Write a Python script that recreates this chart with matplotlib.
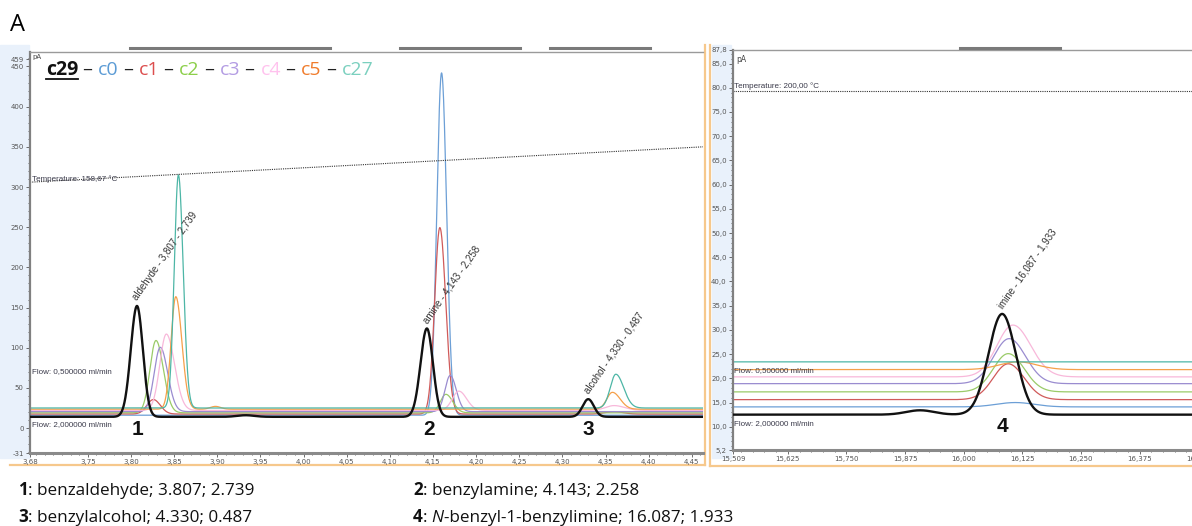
"""
GC chromatogram overlay (panel A): early-eluting region and imine region
"""

import numpy as np
import matplotlib.pyplot as plt
from matplotlib.ticker import MultipleLocator, FixedLocator, FuncFormatter
from matplotlib.lines import Line2D

W, H = 1192, 526

# traces, in drawing order (black reference last)
traces = ["c0", "c1", "c2", "c3", "c4", "c5", "c27", "c29"]
line_colors = {"c29": "#111111", "c0": "#6c9fd6", "c1": "#d05a5a", "c2": "#9acb68",
               "c3": "#9a8cd0", "c4": "#f8b8da", "c5": "#f5a04a", "c27": "#4db6a6"}
legend_names = ["c29", "c0", "c1", "c2", "c3", "c4", "c5", "c27"]
legend_colors = ["#111111", "#5b9bd5", "#dc4e4e", "#8ccf4a", "#b39ce3",
                 "#ffc2ee", "#f07c2c", "#7bd0bf"]

# left window (3.68 - 4.46 min): baseline (pA) and peaks (rt, height, sigma left, sigma right)
left_base = {"c29": 14.0, "c0": 16.0, "c1": 17.5, "c2": 19.0, "c3": 20.5,
             "c4": 22.0, "c5": 23.5, "c27": 25.0}
left_peaks = {
    "c29": [(3.807, 138, 0.0072, 0.0068), (3.933, 2, 0.010, 0.010),
            (4.143, 110, 0.0074, 0.0070), (4.330, 22, 0.0065, 0.0065)],
    "c0": [(4.160, 426, 0.0055, 0.0058)],
    "c1": [(3.826, 18, 0.0075, 0.0080), (4.158, 232, 0.0060, 0.0068),
           (4.360, 3, 0.010, 0.010)],
    "c2": [(3.829, 90, 0.0070, 0.0085), (4.165, 23, 0.0065, 0.0080)],
    "c3": [(3.834, 80, 0.0070, 0.0085), (4.170, 45, 0.0060, 0.0070)],
    "c4": [(3.841, 95, 0.0075, 0.0095), (4.180, 24, 0.0075, 0.0090),
           (4.360, 6, 0.010, 0.012)],
    "c5": [(3.852, 140, 0.0055, 0.0070), (3.898, 3.5, 0.006, 0.006),
           (4.358, 21, 0.0065, 0.0090)],
    "c27": [(3.855, 290, 0.0048, 0.0055), (4.362, 42, 0.0065, 0.0090)],
}

# right window (15.51 - 16.5 min)
right_base = {"c29": 12.5, "c0": 14.1, "c1": 15.6, "c2": 17.2, "c3": 18.9,
              "c4": 20.3, "c5": 21.8, "c27": 23.4}
right_peaks = {
    "c29": [(15.907, 0.9, 0.03, 0.03), (16.082, 20.8, 0.029, 0.029)],
    "c0": [(16.110, 0.9, 0.04, 0.04)],
    "c1": [(16.095, 7.4, 0.032, 0.034)],
    "c2": [(16.095, 7.9, 0.032, 0.034)],
    "c3": [(16.097, 9.3, 0.033, 0.035)],
    "c4": [(16.105, 10.7, 0.034, 0.038)],
    "c5": [(16.116, 1.6, 0.04, 0.04)],
    "c27": [],
}

peak_labels = ["aldehyde - 3,807 - 2,739", "amine - 4,143 - 2,258",
               "alcohol - 4,330 - 0,487", "imine - 16,087 - 1,933"]
peak_label_rt = [3.807, 4.143, 4.330, 16.082]
peak_numbers = ["1", "2", "3", "4"]

caption = [
    ("1", ": benzaldehyde; 3.807; 2.739"),
    ("2", ": benzylamine; 4.143; 2.258"),
    ("3", ": benzylalcohol; 4.330; 0.487"),
    ("4", ": N-benzyl-1-benzylimine; 16.087; 1.933"),
]


def build_trace(t, base, peaks):
    y = np.full_like(t, base)
    for rt, h, sl, sr in peaks:
        s = np.where(t < rt, sl, sr)
        y = y + h * np.exp(-0.5 * ((t - rt) / s) ** 2)
    return y


def px_rect(x0, y0, x1, y1):
    """pixel box (top-left origin) -> figure rect"""
    return [x0 / W, 1 - y1 / H, (x1 - x0) / W, (y1 - y0) / H]


def comma(fmt):
    return FuncFormatter(lambda v, p: (fmt % v).replace(".", ","))


def style_axes(ax):
    ax.spines["right"].set_visible(False)
    ax.spines["left"].set_color("#808080")
    ax.spines["left"].set_linewidth(1.6)
    ax.spines["bottom"].set_color("#8a8a8a")
    ax.spines["bottom"].set_linewidth(2.2)
    ax.spines["top"].set_color("#9a9a9a")
    ax.spines["top"].set_linewidth(1.0)
    ax.tick_params(which="both", direction="out", colors="#555555",
                   labelsize=5, pad=1.5, width=0.6)
    ax.tick_params(which="major", length=3)
    ax.tick_params(which="minor", length=1.6)


def draw_runs(fig, x, y, runs):
    """place consecutive text pieces starting at pixel (x, y baseline)"""
    r = fig.canvas.get_renderer()
    items = []
    for s, kw in runs:
        t = fig.text(x / W, 1 - y / H, s, va="baseline", ha="left", **kw)
        bb = t.get_window_extent(renderer=r)
        items.append((t, bb))
        x += bb.width
    return items


fig = plt.figure(figsize=(W / 100, H / 100), dpi=100)
fig.patch.set_facecolor("white")

# panel decorations (tick-label strips and orange frame lines)
for x0, x1 in [(0, 29), (712, 731)]:
    fig.patches.append(plt.Rectangle((x0 / W, 1 - 458 / H), (x1 - x0) / W, 413 / H,
                                     transform=fig.transFigure, color="#e9f1fb",
                                     zorder=-5))
orange = "#f6c88c"
for xs, ys in [((10, 705), (465, 465)), ((705, 705), (45, 465)),
               ((710, 710), (45, 466)), ((710, 1192), (466, 466))]:
    fig.add_artist(Line2D([x / W for x in xs], [1 - y / H for y in ys],
                          color=orange, lw=1.6, zorder=-4))
for x0, x1 in [(130, 330), (400, 520), (550, 650), (960, 1060)]:
    fig.add_artist(Line2D([x0 / W, x1 / W], [1 - 48 / H, 1 - 48 / H],
                          color="#7a7a7a", lw=2.2))

# ---- left panel ----
axL = fig.add_axes(px_rect(30, 52, 703, 453))
axL.set_facecolor("none")
tL = np.linspace(3.683, 4.463, 3000)
for name in traces:
    lw = 1.7 if name == "c29" else 0.9
    axL.plot(tL, build_trace(tL, left_base[name], left_peaks[name]),
             color=line_colors[name], lw=lw, zorder=3 if name == "c29" else 2)
axL.set_xlim(3.683, 4.463)
axL.set_ylim(-31, 468)
axL.xaxis.set_major_locator(FixedLocator([3.683] + list(np.arange(3.75, 4.46, 0.05))))
axL.xaxis.set_minor_locator(MultipleLocator(0.01))
axL.xaxis.set_major_formatter(comma("%.2f"))
axL.yaxis.set_major_locator(FixedLocator([-31] + list(range(0, 451, 50)) + [459]))
axL.yaxis.set_minor_locator(MultipleLocator(10))
axL.yaxis.set_major_formatter(FuncFormatter(lambda v, p: "%d" % round(v)))
style_axes(axL)

# temperature program line
axL.plot([3.683, 4.463], [306, 350], ls=(0, (1, 1)), color="#333333", lw=0.8)
small = dict(fontsize=5.8, color="#3a3a4a", family="Liberation Sans")
axL.text(3.685, 308, "Temperature: 158,67 °C", **small)
axL.text(3.685, 68, "Flow: 0,500000 ml/min", **small)
axL.text(3.685, 3, "Flow: 2,000000 ml/min", **small)
axL.text(3.6855, 466, "pA", fontsize=5, color="#444444", va="top")

# ---- right panel ----
axR = fig.add_axes(px_rect(733, 50, 1200, 450))
axR.set_facecolor("none")
tR = np.linspace(15.508, 16.504, 3000)
for name in traces:
    lw = 1.7 if name == "c29" else 0.9
    axR.plot(tR, build_trace(tR, right_base[name], right_peaks[name]),
             color=line_colors[name], lw=lw, zorder=3 if name == "c29" else 2)
axR.set_xlim(15.508, 16.504)
axR.set_ylim(5.2, 87.8)
axR.xaxis.set_major_locator(FixedLocator([15.509] + list(np.arange(15.625, 16.51, 0.125))))
axR.xaxis.set_minor_locator(MultipleLocator(0.025))
axR.xaxis.set_major_formatter(comma("%.3f"))
axR.yaxis.set_major_locator(FixedLocator([5.2] + list(np.arange(10, 86, 5)) + [87.8]))
axR.yaxis.set_minor_locator(MultipleLocator(1))
axR.yaxis.set_major_formatter(comma("%.1f"))
style_axes(axR)
axR.axhline(79.4, ls=(0, (1, 1)), color="#333333", lw=0.8)
axR.text(15.51, 79.9, "Temperature: 200,00 °C", **small)
axR.text(15.51, 21.2, "Flow: 0,500000 ml/min", **small)
axR.text(15.51, 10.3, "Flow: 2,000000 ml/min", **small)
axR.text(15.515, 86.8, "pA", fontsize=5.5, color="#444444", va="top")

# peak annotations
for lab, rt in zip(peak_labels, peak_label_rt):
    right = rt > 10
    ax = axR if right else axL
    base = (right_base if right else left_base)["c29"]
    pk = (right_peaks if right else left_peaks)["c29"]
    top = build_trace(np.array([rt]), base, pk)[0]
    ax.annotate(lab, (rt, top), xytext=(1.5, 2.5), textcoords="offset points",
                rotation=55, rotation_mode="anchor", ha="left", va="bottom",
                fontsize=7, color="#333333", family="Liberation Sans", zorder=5)
num_pos = [(axL, 3.808, 10), (axL, 4.146, 10), (axL, 4.330, 10), (axR, 16.082, 12.0)]
for (ax, x, y), n in zip(num_pos, peak_numbers):
    ax.text(x, y, n, ha="center", va="top", fontsize=15, fontweight="bold",
            color="#111111", family="Liberation Sans")

# panel letter
fig.text(10 / W, 1 - 31 / H, "A", fontsize=17, family="Open Sans", va="baseline")

# legend-like header
fig.canvas.draw()
runs = []
for i, (nm, col) in enumerate(zip(legend_names, legend_colors)):
    if i:
        runs.append((" \u2013 ", dict(fontsize=14, color="#222222", family="Open Sans")))
    kw = dict(fontsize=14, color=col, family="Open Sans")
    if nm == "c29":
        kw["fontweight"] = "bold"
    runs.append((nm, kw))
items = draw_runs(fig, 46, 75, runs)
bb = items[0][1]
fig.add_artist(Line2D([bb.x0 / W, bb.x1 / W], [1 - 79 / H, 1 - 79 / H],
                      color="#111111", lw=1.3))

# caption
cap_xy = [(18, 495), (413, 495), (18, 522), (413, 522)]
for (num, rest), (x, y) in zip(caption, cap_xy):
    base = dict(fontsize=12.3, color="#111111", family="Open Sans")
    runs = [(num, dict(base, fontweight="bold"))]
    if "N-" in rest:
        runs += [(": ", base), ("N", dict(base, style="italic")),
                 (rest.split("N", 1)[1], base)]
    else:
        runs.append((rest, base))
    draw_runs(fig, x, y, runs)

fig.savefig("out.png", dpi=100)
